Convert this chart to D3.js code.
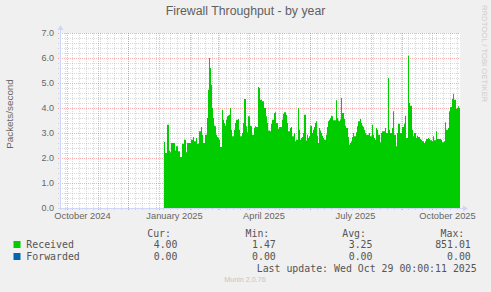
<!DOCTYPE html>
<html>
<head>
<meta charset="utf-8">
<script src="https://cdn.jsdelivr.net/npm/d3@7"></script>
<style>
  body { margin: 0; background: #F0F0F0; }
  svg { display: block; }
</style>
</head>
<body>
<svg id="Chart" width="491" height="292"></svg>
<script>
// chart text
var chartTitle = "Firewall Throughput - by year";
var yLabel = "Packets/second";
var lastUpdate = "Last update: Wed Oct 29 00:00:11 2025";
var watermark = "Munin 2.0.76";
var sideMark = "RRDTOOL / TOBI OETIKER";

// time range of the graph (400 days) and first day with data
var rangeStart = new Date(Date.UTC(2024, 8, 24));
var rangeEnd = new Date(Date.UTC(2025, 9, 29));
var dataStart = new Date(Date.UTC(2025, 0, 6));

var yTicks = [0, 1, 2, 3, 4, 5, 6, 7];
var xLabelMonths = [
  new Date(Date.UTC(2024, 9, 1)),
  new Date(Date.UTC(2025, 0, 1)),
  new Date(Date.UTC(2025, 3, 1)),
  new Date(Date.UTC(2025, 6, 1)),
  new Date(Date.UTC(2025, 9, 1))
];

// daily averages of received packets/second, from Jan 6 2025
var receivedValues = [
  2.64, 2.2, 2.2, 3.33, 3.33, 2.3, 2.23, 2.6, 2.6, 2.6, 2.6, 2.3, 2.47, 2.47, 2.27, 2.27, 2.04, 2.04, 2.57, 2.57, 2.73, 2.73, 2.23, 2.6, 2.6, 2.6, 2.6, 2.73, 2.73, 2.84,
  2.67, 2.67, 2.8, 2.57, 2.57, 3.07, 3.07, 3.24, 2.93, 2.6, 2.6, 2.93, 2.93, 3.6, 4.73, 6.0, 5.6, 4.93, 4.0, 3.6, 3.3, 3.27, 2.93, 2.84, 2.8, 2.73, 2.44, 2.44, 3.93, 3.53,
  3.4, 3.29, 3.53, 3.67, 3.7, 3.73, 4.0, 3.13, 2.87, 2.87, 3.13, 3.4, 3.53, 3.53, 3.56, 3.13, 2.87, 2.87, 3.0, 3.4, 4.36, 4.36, 3.27, 3.03, 3.67, 3.67, 3.29, 3.27, 2.93, 2.93,
  3.2, 3.27, 3.24, 3.24, 4.84, 4.8, 4.33, 4.33, 4.27, 4.27, 4.0, 4.0, 3.67, 3.4, 3.1, 3.1, 3.07, 3.37, 3.53, 3.53, 3.8, 3.83, 3.4, 3.4, 3.16, 3.24, 3.24, 3.24, 3.53, 3.77,
  3.83, 3.83, 3.73, 3.4, 3.07, 3.07, 3.2, 3.24, 2.87, 2.87, 3.0, 2.67, 2.73, 2.73, 4.0, 3.13, 2.73, 2.8, 2.84, 3.0, 3.73, 3.73, 2.7, 2.93, 2.8, 2.87, 3.27, 3.29, 3.0, 3.13,
  3.24, 3.4, 3.47, 2.89, 2.6, 3.2, 3.1, 3.0, 2.89, 2.8, 2.73, 2.73, 2.93, 3.24, 3.47, 3.53, 3.6, 3.69, 3.67, 3.51, 3.51, 3.51, 4.31, 3.6, 3.5, 3.47, 3.53, 4.4, 3.8, 3.8,
  3.56, 3.29, 3.2, 3.2, 2.84, 2.53, 2.6, 2.67, 2.84, 3.0, 2.87, 2.87, 3.03, 3.27, 3.47, 3.47, 3.56, 3.4, 3.3, 3.24, 3.13, 3.0, 2.93, 2.93, 2.93, 3.0, 2.87, 2.87, 3.33, 2.93,
  2.8, 2.73, 3.2, 3.13, 2.93, 2.93, 2.63, 3.0, 3.07, 3.07, 3.07, 3.2, 3.0, 3.0, 5.2, 3.13, 3.0, 3.0, 3.2, 3.87, 2.93, 2.93, 2.47, 3.0, 3.37, 3.37, 3.0, 3.0, 3.24, 3.24,
  3.37, 3.69, 2.8, 2.8, 6.09, 4.2, 4.09, 4.09, 3.13, 2.87, 3.0, 3.0, 2.8, 2.89, 2.84, 2.84, 2.76, 2.73, 2.67, 2.67, 2.6, 2.67, 2.76, 2.76, 2.8, 2.76, 2.71, 2.71, 2.67, 2.87,
  2.71, 2.71, 3.07, 2.76, 2.76, 2.76, 2.76, 2.73, 2.63, 2.63, 2.67, 3.43, 3.13, 3.13, 3.2, 3.87, 4.04, 4.04, 4.36, 4.57, 4.33, 4.33, 3.96, 4.0, 4.07, 4.0
];

// legend
var seriesNames = ["Received", "Forwarded"];
var curValues = ["4.00", "0.00"];
var minValues = ["1.47", "0.00"];
var avgValues = ["3.25", "0.00"];
var maxValues = ["851.01", "0.00"];
var seriesColors = ["#00CC00", "#0066B3"];

var plot = { left: 60, right: 460, top: 33, bottom: 208 };
var sansFont = "'Liberation Sans', Arial, sans-serif";
var monoFont = "'DejaVu Sans Mono', monospace";
var fontColor = "#666666";
var axisColor = "#CFD6F8";
var minorColor = "rgba(140,140,140,0.32)";
var majorColor = "rgba(240,70,70,0.42)";

var svg = d3.select("#Chart");

svg.append("rect").attr("width", 491).attr("height", 292).attr("fill", "#F0F0F0");
svg.append("rect")
  .attr("x", plot.left).attr("y", plot.top)
  .attr("width", plot.right - plot.left).attr("height", plot.bottom - plot.top)
  .attr("fill", "#FFFFFF");

var x = d3.scaleUtc().domain([rangeStart, rangeEnd]).range([plot.left, plot.right]);
var y = d3.scaleLinear().domain([0, 7]).range([plot.bottom, plot.top]);

// grid: minor (weeks / 0.2) in grey, major (months / 1.0) in red
var grid = svg.append("g");
var minorY = d3.range(0, 7.01, 0.2).filter(v => Math.abs(v - Math.round(v)) > 0.01);
grid.selectAll(".minorY").data(minorY).enter().append("line")
  .attr("x1", plot.left - 2).attr("x2", plot.right)
  .attr("y1", d => Math.round(y(d)) + 0.5).attr("y2", d => Math.round(y(d)) + 0.5)
  .attr("stroke", minorColor).attr("stroke-dasharray", "1,1");
var minorX = d3.utcSunday.range(rangeStart, rangeEnd);
grid.selectAll(".minorX").data(minorX).enter().append("line")
  .attr("y1", plot.top).attr("y2", plot.bottom + 2)
  .attr("x1", d => Math.round(x(d)) + 0.5).attr("x2", d => Math.round(x(d)) + 0.5)
  .attr("stroke", minorColor).attr("stroke-dasharray", "1,1");
grid.selectAll(".majorY").data(yTicks).enter().append("line")
  .attr("x1", plot.left - 2).attr("x2", plot.right)
  .attr("y1", d => Math.round(y(d)) + 0.5).attr("y2", d => Math.round(y(d)) + 0.5)
  .attr("stroke", majorColor).attr("stroke-dasharray", "1,1");
var majorX = d3.utcMonth.range(rangeStart, rangeEnd);
grid.selectAll(".majorX").data(majorX).enter().append("line")
  .attr("y1", plot.top).attr("y2", plot.bottom + 2)
  .attr("x1", d => Math.round(x(d)) + 0.5).attr("x2", d => Math.round(x(d)) + 0.5)
  .attr("stroke", majorColor).attr("stroke-dasharray", "1,1");

// received area, one step per day
var points = receivedValues.map((v, i) => ({ date: d3.utcDay.offset(dataStart, i), value: v }));
points.push({ date: d3.utcDay.offset(dataStart, receivedValues.length), value: receivedValues[receivedValues.length - 1] });
var area = d3.area()
  .curve(d3.curveStepAfter)
  .x(d => x(d.date))
  .y0(y(0))
  .y1(d => y(d.value));
svg.append("path").datum(points).attr("d", area).attr("fill", seriesColors[0]);

// axes with arrows
svg.append("line")
  .attr("x1", plot.left + 0.5).attr("x2", plot.left + 0.5)
  .attr("y1", plot.bottom + 2).attr("y2", plot.top - 4)
  .attr("stroke", axisColor);
svg.append("path")
  .attr("d", `M${plot.left - 2.5},${plot.top - 3}L${plot.left + 3.5},${plot.top - 3}L${plot.left + 0.5},${plot.top - 8}Z`)
  .attr("fill", axisColor);
svg.append("line")
  .attr("x1", plot.left - 2).attr("x2", plot.right + 4)
  .attr("y1", plot.bottom + 0.5).attr("y2", plot.bottom + 0.5)
  .attr("stroke", axisColor);
svg.append("path")
  .attr("d", `M${plot.right + 3},${plot.bottom - 2.5}L${plot.right + 3},${plot.bottom + 3.5}L${plot.right + 8},${plot.bottom + 0.5}Z`)
  .attr("fill", axisColor);

// tick labels
svg.append("g").selectAll("text").data(yTicks).enter().append("text")
  .attr("x", 54).attr("y", d => y(d) + 3.3)
  .attr("text-anchor", "end")
  .style("font-family", sansFont).style("font-size", "9px").attr("fill", fontColor)
  .text(d => d3.format(".1f")(d));

var monthFmt = d3.utcFormat("%B %Y");
svg.append("g").selectAll("text").data(xLabelMonths).enter().append("text")
  .attr("x", d => (x(d) + x(d3.utcMonth.offset(d, 1))) / 2)
  .attr("y", 219.3)
  .attr("text-anchor", "middle")
  .style("font-family", sansFont).style("font-size", "9.3px").attr("fill", fontColor)
  .text(d => monthFmt(d));

// title and axis label
svg.append("text")
  .attr("x", 245.5).attr("y", 15)
  .attr("text-anchor", "middle")
  .style("font-family", sansFont).style("font-size", "12.3px").attr("fill", "#606060")
  .text(chartTitle);
svg.append("text")
  .attr("transform", "translate(12.5,114) rotate(-90)")
  .attr("text-anchor", "middle")
  .style("font-family", sansFont).style("font-size", "9.9px").attr("fill", fontColor)
  .text(yLabel);

// watermarks
svg.append("text")
  .attr("transform", "translate(482,5) rotate(90)")
  .style("font-family", sansFont).style("font-size", "7.7px").attr("fill", "#CCCCCC")
  .text(sideMark);
svg.append("text")
  .attr("x", 245).attr("y", 282)
  .attr("text-anchor", "middle")
  .style("font-family", sansFont).style("font-size", "7.2px").attr("fill", "#C4C4C4")
  .text(watermark);

// legend
var legend = svg.append("g")
  .style("font-family", monoFont).style("font-size", "9.9px").attr("fill", "#555555");
var colEnds = [171, 269.3, 366, 464.3];
["Cur:", "Min:", "Avg:", "Max:"].forEach((h, i) => {
  legend.append("text").attr("x", colEnds[i]).attr("y", 237).attr("text-anchor", "end").text(h);
});
var statCols = [curValues, minValues, avgValues, maxValues];
seriesNames.forEach((name, r) => {
  var by = 248 + r * 12;
  legend.append("rect")
    .attr("x", 13.5).attr("y", by - 7).attr("width", 7).attr("height", 7)
    .attr("fill", seriesColors[r]);
  legend.append("text").attr("x", 26.3).attr("y", by).text(name);
  statCols.forEach((col, i) => {
    legend.append("text").attr("x", colEnds[i] + 6.5).attr("y", by)
      .attr("text-anchor", "end").text(col[r]);
  });
});
legend.append("text").attr("x", 476.7).attr("y", 272).attr("text-anchor", "end").text(lastUpdate);
</script>
</body>
</html>
